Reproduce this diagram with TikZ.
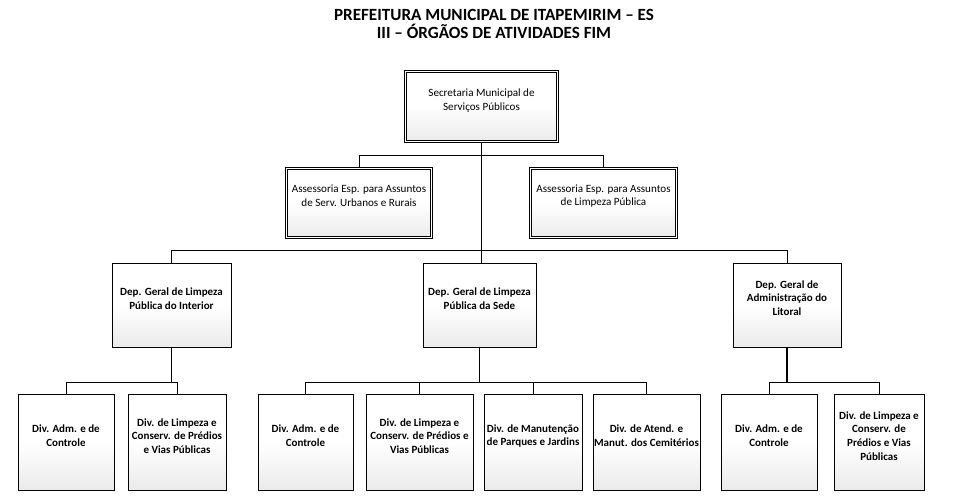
\documentclass[tikz,border=0pt]{standalone}
\usepackage{fontspec}
\setmainfont{Carlito}
\begin{document}
\begin{tikzpicture}[x=1pt,y=-1pt,
  box/.style={draw=black, line width=0.9pt, rectangle, top color=white, bottom color=gray!16, middle color=white, inner sep=0pt},
  dbox/.style={box, double, double distance=1.8pt, line width=0.8pt},
  txt/.style={align=center, inner sep=0pt, font=\fontsize{11.1}{13.8}\selectfont},
  btxt/.style={txt, font=\fontsize{11}{13.8}\selectfont\bfseries},
  conn/.style={draw=black, line width=1pt},
  trunk/.style={draw=black, line width=1.8pt}]
\useasboundingbox (0,0) rectangle (954,503);
\fill[white] (0,0) rectangle (954,503);
% title
\node[align=center, inner sep=0pt, font=\fontsize{17.1}{18}\selectfont\bfseries] (title) at (494,24)
  {PREFEITURA MUNICIPAL DE ITAPEMIRIM – ES\\III – ÓRGÃOS DE ATIVIDADES FIM};
% level 0
\node[dbox, minimum width=152pt, minimum height=70pt] (sec) at (481.5,106.5) {};
\node[txt] (sec-t) at ([yshift=6pt]sec.center) {Secretaria Municipal de\\Serviços Públicos};
% assessorias
\node[dbox, minimum width=145pt, minimum height=69pt] (al) at (359,203) {};
\node[txt] (al-t) at ([yshift=7pt]al.center) {Assessoria Esp. para Assuntos\\de Serv. Urbanos e Rurais};
\node[dbox, minimum width=146pt, minimum height=69pt] (ar) at (603.5,203) {};
\node[txt] (ar-t) at ([yshift=7pt]ar.center) {Assessoria Esp. para Assuntos\\de Limpeza Pública};
% departments
\node[box, minimum width=119pt, minimum height=84pt] (dl) at (171.5,305) {};
\node[btxt] (dl-t) at ([yshift=6.5pt]dl.center) {Dep. Geral de Limpeza\\Pública do Interior};
\node[box, minimum width=113pt, minimum height=84pt] (dm) at (479.5,305) {};
\node[btxt] (dm-t) at ([yshift=6.5pt]dm.center) {Dep. Geral de Limpeza\\Pública da Sede};
\node[box, minimum width=108pt, minimum height=84pt] (dr) at (787,305) {};
\node[btxt] (dr-t) at ([yshift=7pt]dr.center) {Dep. Geral de\\Administração do\\Litoral};
% divisions
\node[box, minimum width=96pt, minimum height=96pt] (l1) at (66,442) {};
\node[btxt] (l1-t) at ([yshift=6pt]l1.center) {Div. Adm. e de\\Controle};
\node[box, minimum width=98pt, minimum height=96pt] (l2) at (177,442) {};
\node[btxt] (l2-t) at ([yshift=6pt]l2.center) {Div. de Limpeza e\\Conserv. de Prédios\\e Vias Públicas};
\node[box, minimum width=95pt, minimum height=96pt] (m1) at (305.5,442) {};
\node[btxt] (m1-t) at ([yshift=6pt]m1.center) {Div. Adm. e de\\Controle};
\node[box, minimum width=107pt, minimum height=96pt] (m2) at (419.5,442) {};
\node[btxt] (m2-t) at ([yshift=6pt]m2.center) {Div. de Limpeza e\\Conserv. de Prédios e\\Vias Públicas};
\node[box, minimum width=98pt, minimum height=96pt] (m3) at (533,442) {};
\node[btxt] (m3-t) at ([yshift=6pt]m3.center) {Div. de Manutenção\\de Parques e Jardins};
\node[box, minimum width=107pt, minimum height=96pt] (m4) at (646.5,442) {};
\node[btxt] (m4-t) at ([yshift=6pt]m4.center) {Div. de Atend. e\\Manut. dos Cemitérios};
\node[box, minimum width=96pt, minimum height=96pt] (r1) at (769,442) {};
\node[btxt] (r1-t) at ([yshift=6pt]r1.center) {Div. Adm. e de\\Controle};
\node[box, minimum width=90pt, minimum height=96pt] (r2) at (879,442) {};
\node[btxt] (r2-t) at ([yshift=6pt]r2.center) {Div. de Limpeza e\\Conserv. de\\Prédios e Vias\\Públicas};
% buses
\coordinate (abus) at (0,155);
\coordinate (dbus) at (0,250);
\coordinate (vbus) at (0,382);
% connectors
\draw[conn] (al.north) -- (al.north |- abus) -- (ar.north |- abus) -- (ar.north);
\draw[conn] (dl.north) -- (dl.north |- dbus) -- (dr.north |- dbus) -- (dr.north);
\draw[trunk] (sec.south) -- (sec.south |- dm.north);
\draw[trunk] (dl.south) -- (dl.south |- vbus);
\draw[conn] (l1.north) -- (l1.north |- vbus) -- (l2.north |- vbus) -- (l2.north);
\draw[trunk] (dm.south) -- (dm.south |- vbus);
\draw[conn] (m1.north) -- (m1.north |- vbus) -- (m4.north |- vbus) -- (m4.north);
\draw[conn] (m2.north) -- (m2.north |- vbus);
\draw[conn] (m3.north) -- (m3.north |- vbus);
\draw[trunk] (dr.south) -- (dr.south |- vbus);
\draw[conn] (r1.north) -- (r1.north |- vbus) -- (r2.north |- vbus) -- (r2.north);
\end{tikzpicture}
\end{document}
